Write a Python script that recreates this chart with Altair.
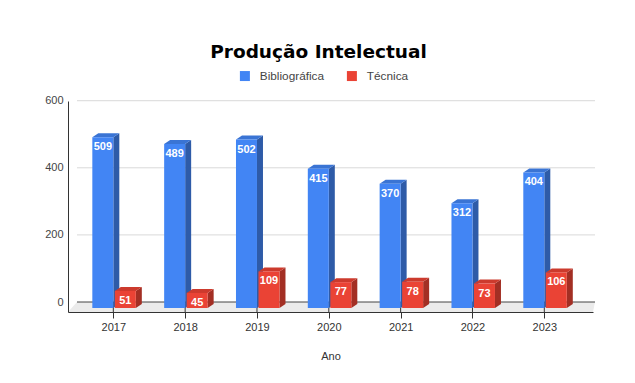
import altair as alt
import pandas as pd

# ---------------- data ----------------
years = [2017, 2018, 2019, 2020, 2021, 2022, 2023]
bibliografica = [509, 489, 502, 415, 370, 312, 404]
tecnica = [51, 45, 109, 77, 78, 73, 106]
series_names = ["Bibliográfica", "Técnica"]
front_colors = ["#4285F4", "#EA4335"]
side_colors = ["#2E5BA8", "#A32F24"]
top_colors = ["#3A74D4", "#CC3A2D"]
y_ticks = [0, 200, 400, 600]

# ---------------- geometry (pixels) ----------------
W, H = 525, 211
X0, X1 = 2016.369, 2023.678
Y0, Y1 = -11.92, 617.0
PXX = W / (X1 - X0)
PXY = H / (Y1 - Y0)

BAR_W = 21.0
LEFT_PX = {"Bibliográfica": -21.0, "Técnica": 1.5}
DX, DY = 6.0, 4.0               # bar depth
FX_L, FX_R, FY = 9.0, 2.0, 6.0  # floor / back plane shift

dxu = DX / PXX
dyu = DY / PXY
back_u = FY / PXY

values = {"Bibliográfica": bibliografica, "Técnica": tecnica}
front_rows, poly_rows, label_rows = [], [], []
for si, s in enumerate(series_names):
    for yr, v in zip(years, values[s]):
        xl = yr + LEFT_PX[s] / PXX
        xr = xl + BAR_W / PXX
        front_rows.append({"xl": xl, "xr": xr, "v": v, "series": s})
        label_rows.append({"xc": (xl + xr) / 2, "v": v, "t": str(v)})
        # side face (parallelogram)
        for o, (px, py) in enumerate([(xr, v), (xr + dxu, v + dyu), (xr + dxu, dyu), (xr, 0)]):
            poly_rows.append({"pid": f"s-{s}-{yr}", "x": px, "y": py, "o": o,
                              "c": side_colors[si], "layer": 0})
        # top face (parallelogram)
        for o, (px, py) in enumerate([(xl, v), (xr, v), (xr + dxu, v + dyu), (xl + dxu, v + dyu)]):
            poly_rows.append({"pid": f"t-{s}-{yr}", "x": px, "y": py, "o": o,
                              "c": top_colors[si], "layer": 1})

fronts = pd.DataFrame(front_rows)
polys = pd.DataFrame(poly_rows)
sides = polys[polys["layer"] == 0]
tops = polys[polys["layer"] == 1]
labels = pd.DataFrame(label_rows)

floor = pd.DataFrame({
    "x": [X0, X1, X1 + FX_R / PXX, X0 + FX_L / PXX],
    "y": [Y0, Y0, back_u, back_u],
    "o": [0, 1, 2, 3],
})
grid = pd.DataFrame({
    "gy": [t + back_u for t in y_ticks],
    "gx": [X0 + FX_L / PXX] * len(y_ticks),
    "gx2": [X1 + FX_R / PXX] * len(y_ticks),
    "gc": ["#444444" if t == 0 else "#d9d9d9" for t in y_ticks],
})
floor_ticks = pd.DataFrame({"x": years, "y": [Y0] * len(years), "y2": [back_u] * len(years)})

xs = alt.Scale(domain=[X0, X1], nice=False, zero=False)
ys = alt.Scale(domain=[Y0, Y1], nice=False, zero=False)

floor_layer = alt.Chart(floor).mark_line(filled=True, color="#ebebeb", strokeWidth=0).encode(
    x=alt.X("x:Q", scale=xs),
    y=alt.Y("y:Q", scale=ys),
    order="o:Q",
)
grid_layer = alt.Chart(grid).mark_rule(strokeWidth=1).encode(
    x=alt.X("gx:Q", scale=xs),
    x2="gx2:Q",
    y=alt.Y("gy:Q", scale=ys),
    stroke=alt.Stroke("gc:N", scale=None),
)
ftick_layer = alt.Chart(floor_ticks).mark_rule(color="#333333", strokeWidth=1).encode(
    x=alt.X("x:Q", scale=xs),
    y=alt.Y("y:Q", scale=ys),
    y2="y2:Q",
)
side_layer = alt.Chart(sides).mark_line(filled=True, strokeWidth=0).encode(
    x=alt.X("x:Q", scale=xs),
    y=alt.Y("y:Q", scale=ys),
    fill=alt.Fill("c:N", scale=None),
    detail="pid:N",
    order="o:Q",
)
top_layer = alt.Chart(tops).mark_line(filled=True, strokeWidth=0).encode(
    x=alt.X("x:Q", scale=xs),
    y=alt.Y("y:Q", scale=ys),
    fill=alt.Fill("c:N", scale=None),
    detail="pid:N",
    order="o:Q",
)
front_layer = alt.Chart(fronts).mark_rect().encode(
    x=alt.X(
        "xl:Q", scale=xs,
        axis=alt.Axis(
            values=years, format="d", title="Ano", grid=False,
            tickSize=6, tickColor="#333333", domainColor="#333333",
            labelFontSize=11, labelColor="#333333", labelPadding=3,
            titleFontSize=11, titleFontWeight="normal", titleColor="#333333",
            titlePadding=18, labelFont="Liberation Sans", titleFont="Liberation Sans",
            zindex=1,
        ),
    ),
    x2="xr:Q",
    y=alt.Y(
        "v:Q", scale=ys,
        axis=alt.Axis(
            values=y_ticks, grid=False, ticks=False, title=None,
            labelOffset=-6, labelPadding=5, labelFontSize=11, labelColor="#444444",
            labelFont="Liberation Sans", domainColor="#333333", zindex=1,
        ),
    ),
    y2=alt.datum(0),
    color=alt.Color(
        "series:N",
        scale=alt.Scale(domain=series_names, range=front_colors),
        legend=alt.Legend(
            orient="none", legendX=171, legendY=-31, direction="horizontal",
            title=None, symbolType="square", symbolSize=100, symbolStrokeWidth=0,
            labelFontSize=11.8, labelColor="#444444", labelFont="Liberation Sans",
            columnPadding=21, labelOffset=9, padding=0,
        ),
    ),
)
label_layer = alt.Chart(labels).mark_text(
    color="white", fontSize=11, fontWeight="bold", font="Liberation Sans",
    baseline="middle", dy=10
).encode(
    x=alt.X("xc:Q", scale=xs),
    y=alt.Y("v:Q", scale=ys),
    text="t:N",
)

chart = alt.layer(
    floor_layer, grid_layer, ftick_layer, side_layer, top_layer, front_layer, label_layer
).properties(
    width=W, height=H,
    autosize=alt.AutoSizeParams(type="none"),
    padding={"left": 60, "top": 93, "right": 34, "bottom": 53},
    title=alt.TitleParams(
        "Produção Intelectual", fontSize=18.5, font="DejaVu Sans", fontWeight="bold",
        color="#000000", anchor="middle", dx=-12, offset=9,
    ),
    background="white",
).configure_view(stroke=None)

chart.save("out.html", embed_options={"renderer": "svg", "actions": False})
